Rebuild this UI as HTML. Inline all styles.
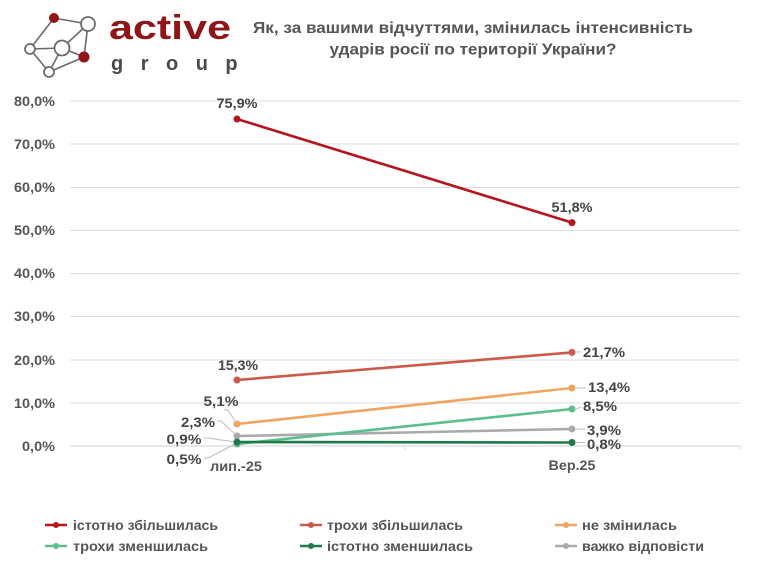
<!DOCTYPE html>
<html>
<head>
<meta charset="utf-8">
<style>
html,body{margin:0;padding:0;background:#fff;}
svg{display:block;}
text{font-family:"Liberation Sans","DejaVu Sans",sans-serif;font-weight:bold;}
</style>
</head>
<body>
<svg width="780" height="585" viewBox="0 0 780 585" xmlns="http://www.w3.org/2000/svg">
<rect width="780" height="585" fill="#ffffff"/>

<!-- Logo -->
<g stroke="#6b6b6b" stroke-width="1.6" fill="none">
  <line x1="54" y1="18" x2="88" y2="24"/>
  <line x1="54" y1="18" x2="30" y2="49"/>
  <line x1="88" y1="24" x2="62" y2="48"/>
  <line x1="88" y1="24" x2="84" y2="57"/>
  <line x1="30" y1="49" x2="62" y2="48"/>
  <line x1="30" y1="49" x2="49" y2="72"/>
  <line x1="62" y1="48" x2="49" y2="72"/>
  <line x1="49" y1="72" x2="84" y2="57"/>
  <line x1="62" y1="48" x2="84" y2="57"/>
</g>
<circle cx="54" cy="18" r="5" fill="#8e1518"/>
<circle cx="88" cy="24" r="7" fill="#fff" stroke="#6b6b6b" stroke-width="1.8"/>
<circle cx="30" cy="49" r="5" fill="#fff" stroke="#6b6b6b" stroke-width="1.8"/>
<circle cx="62" cy="48" r="7.5" fill="#fff" stroke="#6b6b6b" stroke-width="1.8"/>
<circle cx="84" cy="57" r="5.5" fill="#8e1518"/>
<circle cx="49" cy="72" r="5" fill="#fff" stroke="#6b6b6b" stroke-width="1.8"/>
<text x="109" y="39" font-size="34" fill="#8e1518" textLength="122" lengthAdjust="spacingAndGlyphs">active</text>
<text x="111" y="70" font-size="20" fill="#4a4a4a" font-weight="normal" letter-spacing="17.5">group</text>

<!-- Title -->
<text x="473" y="33" font-size="15.5" fill="#555" text-anchor="middle" textLength="440" lengthAdjust="spacingAndGlyphs">Як, за вашими відчуттями, змінилась інтенсивність</text>
<text x="473" y="54.5" font-size="15.5" fill="#555" text-anchor="middle" textLength="287" lengthAdjust="spacingAndGlyphs">ударів росії по території України?</text>

<!-- Gridlines -->
<g stroke="#dcdcdc" stroke-width="1">
  <line x1="70" y1="101" x2="740" y2="101"/>
  <line x1="70" y1="144" x2="740" y2="144"/>
  <line x1="70" y1="187.5" x2="740" y2="187.5"/>
  <line x1="70" y1="230.5" x2="740" y2="230.5"/>
  <line x1="70" y1="273.5" x2="740" y2="273.5"/>
  <line x1="70" y1="316.5" x2="740" y2="316.5"/>
  <line x1="70" y1="360" x2="740" y2="360"/>
  <line x1="70" y1="403" x2="740" y2="403"/>
</g>
<line x1="70" y1="446" x2="740" y2="446" stroke="#d0d0d0" stroke-width="1"/>
<line x1="405" y1="446" x2="405" y2="450" stroke="#d8d8d8"/>
<line x1="740" y1="446" x2="740" y2="450" stroke="#d8d8d8"/>

<!-- Y tick labels -->
<g font-size="14" fill="#555" text-anchor="end">
  <text x="55" y="106" textLength="41" lengthAdjust="spacingAndGlyphs">80,0%</text>
  <text x="55" y="149" textLength="41" lengthAdjust="spacingAndGlyphs">70,0%</text>
  <text x="55" y="192" textLength="41" lengthAdjust="spacingAndGlyphs">60,0%</text>
  <text x="55" y="235" textLength="41" lengthAdjust="spacingAndGlyphs">50,0%</text>
  <text x="55" y="278" textLength="41" lengthAdjust="spacingAndGlyphs">40,0%</text>
  <text x="55" y="321" textLength="41" lengthAdjust="spacingAndGlyphs">30,0%</text>
  <text x="55" y="365" textLength="41" lengthAdjust="spacingAndGlyphs">20,0%</text>
  <text x="55" y="408" textLength="41" lengthAdjust="spacingAndGlyphs">10,0%</text>
  <text x="55" y="451" textLength="33" lengthAdjust="spacingAndGlyphs">0,0%</text>
</g>

<!-- X labels -->
<text x="236" y="471" font-size="14" fill="#555" text-anchor="middle" textLength="52" lengthAdjust="spacingAndGlyphs">лип.-25</text>
<text x="572" y="470" font-size="14" fill="#555" text-anchor="middle" textLength="47" lengthAdjust="spacingAndGlyphs">Вер.25</text>

<!-- Leader lines -->
<g stroke="#bdbdbd" stroke-width="1" fill="none">
  <polyline points="224,410 228,410 235,421"/>
  <polyline points="217,421 221,421 235,434"/>
  <polyline points="204,438 208,438 235,442"/>
  <polyline points="204,458 208,458 235,444"/>
  <line x1="576" y1="352" x2="581" y2="352"/>
  <line x1="576" y1="388" x2="586" y2="388"/>
  <line x1="576" y1="409" x2="581" y2="407"/>
  <line x1="576" y1="429" x2="585" y2="429"/>
  <line x1="576" y1="442.5" x2="585" y2="442.5"/>
</g>

<!-- Series -->
<g stroke-width="2.6" fill="none" stroke-linecap="round">
  <line x1="237" y1="436" x2="572" y2="429" stroke="#aaaaaa"/>
  <line x1="237" y1="444" x2="572" y2="409" stroke="#5bbf8b"/>
  <line x1="237" y1="442" x2="572" y2="442.5" stroke="#1f7a4a"/>
  <line x1="237" y1="424" x2="572" y2="388" stroke="#f0a65f"/>
  <line x1="237" y1="380" x2="572" y2="352.4" stroke="#cc5a4c"/>
  <line x1="237" y1="119" x2="572" y2="222.6" stroke="#b5141c"/>
</g>
<g>
  <circle cx="237" cy="436" r="3.5" fill="#aaaaaa"/>
  <circle cx="572" cy="429" r="3.5" fill="#aaaaaa"/>
  <circle cx="237" cy="444" r="3.5" fill="#5bbf8b"/>
  <circle cx="572" cy="409" r="3.5" fill="#5bbf8b"/>
  <circle cx="237" cy="442" r="3.5" fill="#1f7a4a"/>
  <circle cx="572" cy="442.5" r="3.5" fill="#1f7a4a"/>
  <circle cx="237" cy="424" r="3.5" fill="#f0a65f"/>
  <circle cx="572" cy="388" r="3.5" fill="#f0a65f"/>
  <circle cx="237" cy="380" r="3.5" fill="#cc5a4c"/>
  <circle cx="572" cy="352.4" r="3.5" fill="#cc5a4c"/>
  <circle cx="237" cy="119" r="3.5" fill="#b5141c"/>
  <circle cx="572" cy="222.6" r="3.5" fill="#b5141c"/>
</g>

<!-- Data labels -->
<g font-size="14" fill="#444">
  <text x="237" y="108" text-anchor="middle" textLength="41" lengthAdjust="spacingAndGlyphs">75,9%</text>
  <text x="572" y="212" text-anchor="middle" textLength="41" lengthAdjust="spacingAndGlyphs">51,8%</text>
  <text x="238" y="370" text-anchor="middle" textLength="40" lengthAdjust="spacingAndGlyphs">15,3%</text>
  <text x="221" y="406" text-anchor="middle" textLength="35" lengthAdjust="spacingAndGlyphs">5,1%</text>
  <text x="198" y="427" text-anchor="middle" textLength="34" lengthAdjust="spacingAndGlyphs">2,3%</text>
  <text x="184" y="444" text-anchor="middle" textLength="35" lengthAdjust="spacingAndGlyphs">0,9%</text>
  <text x="184" y="464" text-anchor="middle" textLength="35" lengthAdjust="spacingAndGlyphs">0,5%</text>
  <text x="583" y="357" textLength="42" lengthAdjust="spacingAndGlyphs">21,7%</text>
  <text x="588" y="392" textLength="42" lengthAdjust="spacingAndGlyphs">13,4%</text>
  <text x="583" y="411" textLength="34" lengthAdjust="spacingAndGlyphs">8,5%</text>
  <text x="587" y="435" textLength="34" lengthAdjust="spacingAndGlyphs">3,9%</text>
  <text x="587" y="449" textLength="34" lengthAdjust="spacingAndGlyphs">0,8%</text>
</g>

<!-- Legend -->
<g stroke-width="2.6">
  <line x1="45" y1="525" x2="67" y2="525" stroke="#b5141c"/>
  <line x1="300" y1="525" x2="322" y2="525" stroke="#cc5a4c"/>
  <line x1="555" y1="525" x2="577" y2="525" stroke="#f0a65f"/>
  <line x1="45" y1="546" x2="67" y2="546" stroke="#5bbf8b"/>
  <line x1="300" y1="546" x2="322" y2="546" stroke="#1f7a4a"/>
  <line x1="555" y1="546" x2="577" y2="546" stroke="#aaaaaa"/>
</g>
<circle cx="56" cy="525" r="3" fill="#b5141c"/>
<circle cx="311" cy="525" r="3" fill="#cc5a4c"/>
<circle cx="566" cy="525" r="3" fill="#f0a65f"/>
<circle cx="56" cy="546" r="3" fill="#5bbf8b"/>
<circle cx="311" cy="546" r="3" fill="#1f7a4a"/>
<circle cx="566" cy="546" r="3" fill="#aaaaaa"/>
<g font-size="13.5" fill="#555">
  <text x="73" y="530" textLength="145" lengthAdjust="spacingAndGlyphs">істотно збільшилась</text>
  <text x="327" y="530" textLength="136" lengthAdjust="spacingAndGlyphs">трохи збільшилась</text>
  <text x="582" y="530" textLength="95" lengthAdjust="spacingAndGlyphs">не змінилась</text>
  <text x="73" y="551" textLength="135" lengthAdjust="spacingAndGlyphs">трохи зменшилась</text>
  <text x="327" y="551" textLength="146" lengthAdjust="spacingAndGlyphs">істотно зменшилась</text>
  <text x="582" y="551" textLength="122" lengthAdjust="spacingAndGlyphs">важко відповісти</text>
</g>
</svg>
</body>
</html>
